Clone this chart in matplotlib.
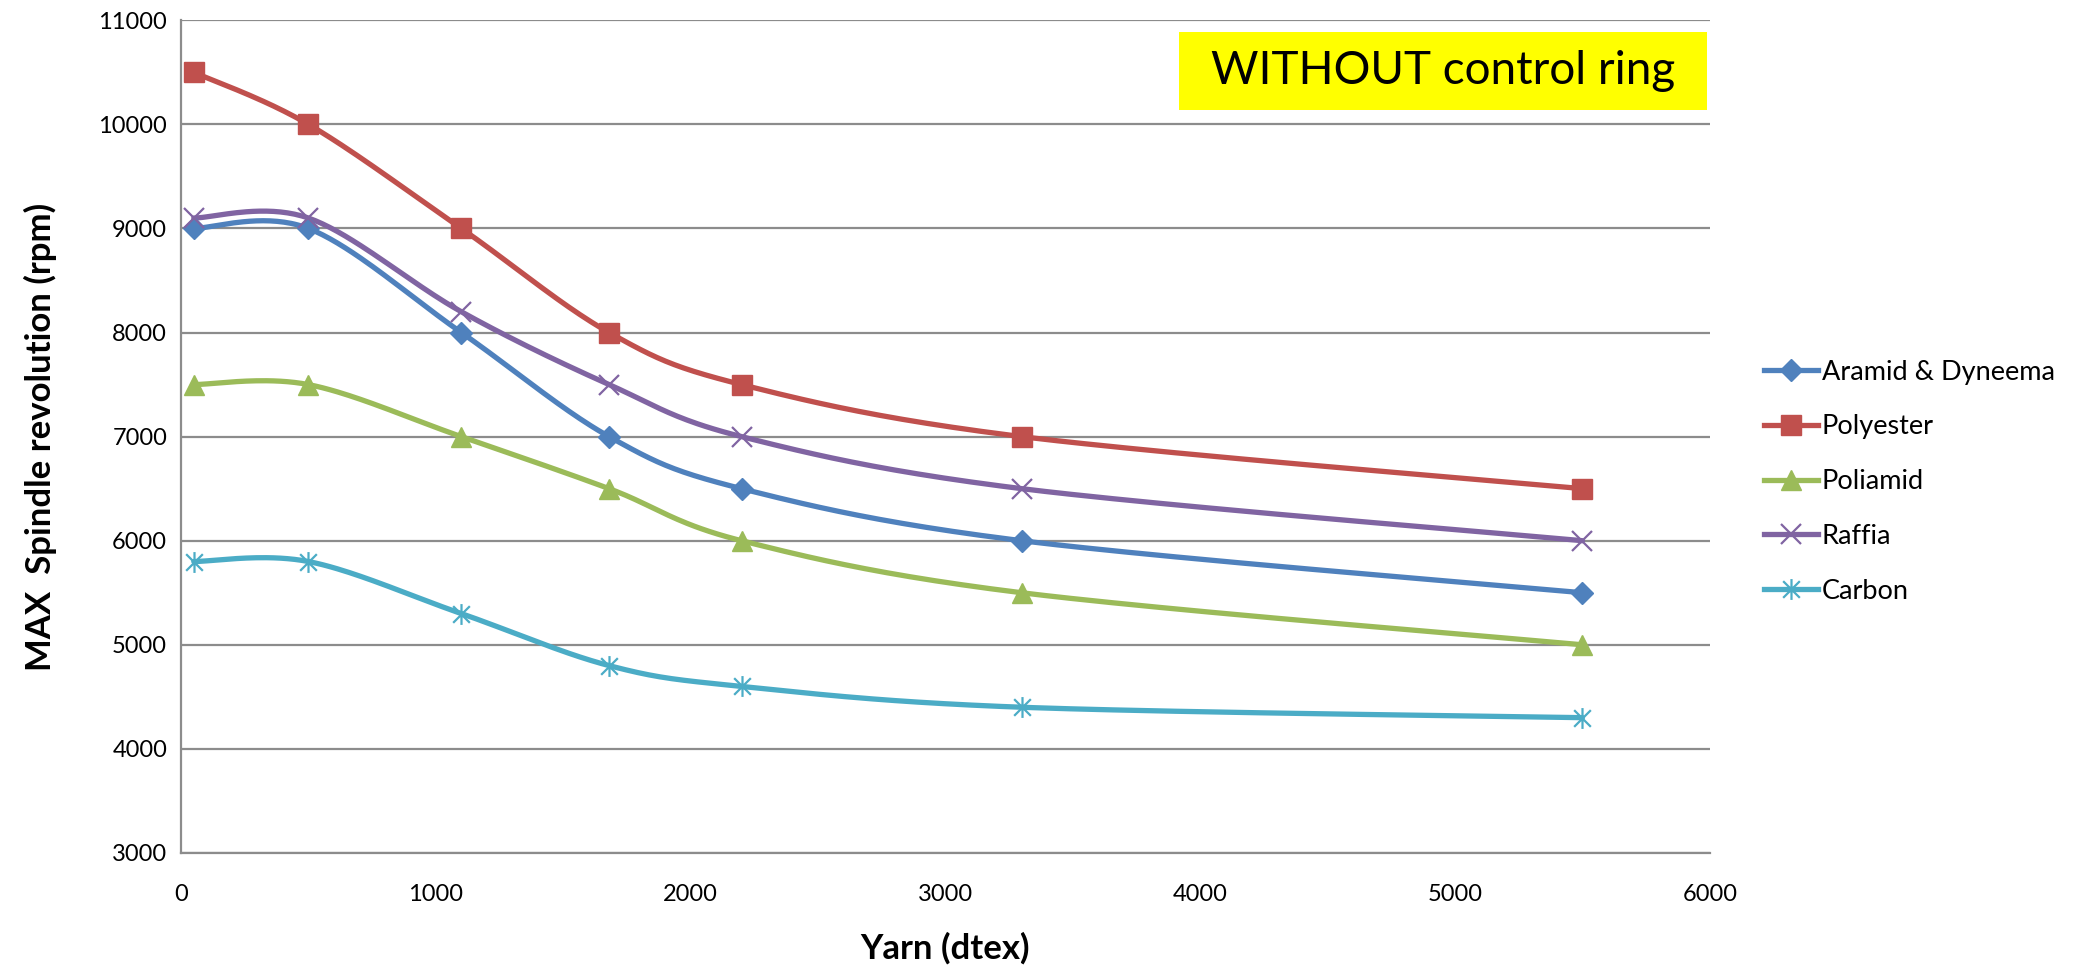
import numpy as np
import matplotlib
matplotlib.use("Agg")
import matplotlib.pyplot as plt
from matplotlib.path import Path

# yarn count (dtex) and max spindle speed (rpm) per material
yarn_dtex = [50, 500, 1100, 1680, 2200, 3300, 5500]
aramid = [9000, 9000, 8000, 7000, 6500, 6000, 5500]
polyester = [10500, 10000, 9000, 8000, 7500, 7000, 6500]
poliamid = [7500, 7500, 7000, 6500, 6000, 5500, 5000]
raffia = [9100, 9100, 8200, 7500, 7000, 6500, 6000]
carbon = [5800, 5800, 5300, 4800, 4600, 4400, 4300]

series_names = ["Aramid & Dyneema", "Polyester", "Poliamid", "Raffia", "Carbon"]
y_ticks = [3000, 4000, 5000, 6000, 7000, 8000, 9000, 10000, 11000]
x_ticks = [0, 1000, 2000, 3000, 4000, 5000, 6000]

# excel style star marker: vertical bar plus an x
star = Path([(0, -1), (0, 1), (-0.8, -0.8), (0.8, 0.8), (-0.8, 0.8), (0.8, -0.8)],
            [Path.MOVETO, Path.LINETO, Path.MOVETO, Path.LINETO, Path.MOVETO, Path.LINETO])

colors = ["#4F81BD", "#C0504D", "#9BBB59", "#8064A2", "#4BACC6"]
markers = ["D", "s", "^", "x", star]
msizes = [11, 14, 14, 15, 15]


def smooth(xs, ys, n=40):
    ''' Catmull-Rom bezier like the excel "smoothed line" option '''
    p = np.column_stack([xs, ys]).astype(float)
    p = np.vstack([p[0], p, p[-1]])
    out = []
    t = np.linspace(0, 1, n)[:, None]
    for i in range(1, len(p) - 2):
        p0, p1, p2, p3 = p[i - 1], p[i], p[i + 1], p[i + 2]
        c1 = p1 + (p2 - p0) / 6.0
        c2 = p2 - (p3 - p1) / 6.0
        seg = ((1 - t) ** 3) * p1 + 3 * ((1 - t) ** 2) * t * c1 + 3 * (1 - t) * t ** 2 * c2 + t ** 3 * p2
        out.append(seg if i == 1 else seg[1:])
    out = np.vstack(out)
    return out[:, 0], out[:, 1]


plt.rcParams['font.family'] = ['Lato', 'DejaVu Sans']
fig = plt.figure(figsize=(20.98, 9.66), dpi=100)
ax = fig.add_axes([0.0863, 0.117, 0.7287, 0.862])

handles = []
for vals, name, c, m, ms in zip([aramid, polyester, poliamid, raffia, carbon],
                                series_names, colors, markers, msizes):
    sx, sy = smooth(yarn_dtex, vals)
    ax.plot(sx, sy, color=c, lw=3.8, solid_capstyle='round', zorder=3)
    mew = 1.6 if m in ("x",) or m is star else 1
    ax.plot(yarn_dtex, vals, ls='none', marker=m, ms=ms, color=c, mec=c, mew=mew, zorder=4)
    h, = ax.plot([], [], color=c, lw=3.8, marker=m, ms=ms, mec=c, mew=mew, label=name)
    handles.append(h)

ax.set_xlim(0, 6000)
ax.set_ylim(3000, 11000)
ax.set_xticks(x_ticks)
ax.set_yticks(y_ticks)
ax.grid(axis='y', color='#8C8C8C', lw=1.6)
ax.set_axisbelow(True)
for s in ['top', 'right']:
    ax.spines[s].set_visible(False)
ax.spines['left'].set_color('#8C8C8C')
ax.spines['bottom'].set_color('#8C8C8C')
ax.spines['left'].set_linewidth(1.6)
ax.spines['bottom'].set_linewidth(1.6)
ax.tick_params(length=0, labelsize=17, pad=10)
ax.tick_params(axis='x', pad=22)

ax.set_xlabel('Yarn (dtex)', fontsize=25, fontweight='bold', labelpad=20)
ax.set_ylabel('MAX  Spindle revolution (rpm)', fontsize=25, fontweight='bold', labelpad=30)

# yellow note box
ax.add_patch(plt.Rectangle((0.653, 0.892), 0.345, 0.094, transform=ax.transAxes,
                           facecolor='#FFFF00', edgecolor='none', zorder=5))
ax.text(0.8255, 0.939, 'WITHOUT control ring', transform=ax.transAxes, fontsize=33,
        ha='center', va='center', zorder=6)

fig.legend(handles=handles, loc='upper left', bbox_to_anchor=(0.829, 0.653),
           frameon=False, fontsize=19.5, handlelength=2.0, handletextpad=0.15,
           labelspacing=1.1)

fig.savefig('out.png', dpi=100)
